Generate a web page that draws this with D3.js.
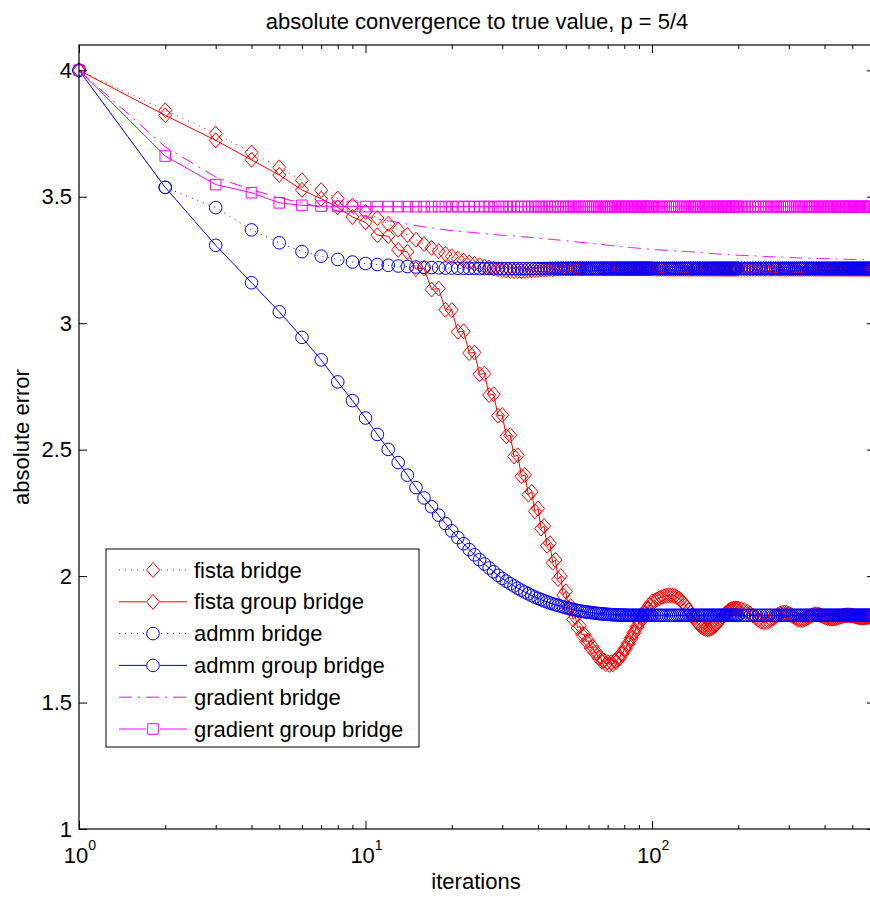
<!DOCTYPE html>
<html>
<head>
<meta charset="utf-8">
<script src="https://cdn.jsdelivr.net/npm/d3@7"></script>
<style>
body { margin: 0; background: #fff; }
svg { display: block; font-family: "Liberation Sans", Arial, Helvetica, sans-serif; }
</style>
</head>
<body>
<div id="chart"></div>
<script>
// iteration index: every step to 100, then thinner (markers still overlap into a band)
const iters = [...d3.range(1, 101), ...d3.range(102, 201, 2), ...d3.range(205, 581, 5)];

const fistaBridge = [
    4.000,3.842,3.750,3.675,3.616,3.565,3.526,3.493,3.465,3.440,
    3.416,3.393,3.370,3.349,3.330,3.313,3.298,3.285,3.274,3.264,
    3.255,3.247,3.240,3.234,3.229,3.224,3.220,3.216,3.213,3.210,
    3.208,3.207,3.206,3.206,3.206,3.207,3.208,3.209,3.210,3.211,
    3.212,3.213,3.213,3.214,3.214,3.215,3.215,3.216,3.216,3.216,
    3.216,3.216,3.216,3.216,3.216,3.216,3.216,3.216,3.216,3.216,
    3.216,3.216,3.216,3.216,3.216,3.216,3.216,3.216,3.216,3.216,
    3.216,3.216,3.216,3.216,3.216,3.216,3.216,3.216,3.216,3.216,
    3.216,3.216,3.216,3.216,3.216,3.216,3.216,3.216,3.216,3.216,
    3.216,3.216,3.216,3.216,3.216,3.216,3.216,3.216,3.216,3.216,
    // 102..200 by 2
    3.215,3.215,3.215,3.215,3.215,3.215,3.215,3.215,3.215,3.215,
    3.215,3.215,3.215,3.215,3.215,3.215,3.215,3.215,3.215,3.215,
    3.215,3.215,3.215,3.215,3.215,3.215,3.215,3.215,3.215,3.215,
    3.215,3.215,3.215,3.215,3.215,3.215,3.215,3.215,3.215,3.215,
    3.215,3.215,3.215,3.215,3.215,3.215,3.215,3.215,3.215,3.215,
    // 205..580 by 5
    3.215,3.215,3.215,3.215,3.215,3.215,3.215,3.215,3.215,3.215,
    3.215,3.215,3.215,3.215,3.215,3.215,3.215,3.215,3.215,3.215,
    3.215,3.215,3.215,3.215,3.215,3.215,3.215,3.215,3.215,3.215,
    3.215,3.215,3.215,3.215,3.215,3.215,3.215,3.215,3.215,3.215,
    3.215,3.215,3.215,3.215,3.215,3.215,3.215,3.215,3.215,3.215,
    3.215,3.215,3.215,3.215,3.215,3.215,3.215,3.215,3.215,3.215,
    3.215,3.215,3.215,3.215,3.215,3.215,3.215,3.215,3.215,3.215,
    3.215,3.215,3.215,3.215,3.215,3.215
];

const fistaGroup = [
    4.000,3.822,3.723,3.646,3.586,3.527,3.492,3.458,3.420,3.399,
    3.348,3.344,3.290,3.282,3.214,3.217,3.133,3.137,3.053,3.052,
    2.966,2.968,2.882,2.884,2.798,2.801,2.716,2.719,2.634,2.637,
    2.553,2.557,2.473,2.478,2.395,2.400,2.322,2.333,2.256,2.267,
    2.188,2.198,2.120,2.130,2.053,2.064,1.988,2.000,1.925,1.940,
    1.875,1.881,1.829,1.838,1.795,1.803,1.768,1.770,1.741,1.744,
    1.716,1.721,1.697,1.698,1.676,1.679,1.661,1.666,1.652,1.660,
    1.649,1.659,1.651,1.665,1.660,1.676,1.674,1.693,1.692,1.712,
    1.712,1.732,1.733,1.754,1.755,1.776,1.777,1.798,1.799,1.819,
    1.819,1.839,1.838,1.857,1.855,1.873,1.870,1.887,1.883,1.899,
    // 102..200 by 2
    1.902,1.908,1.913,1.917,1.920,1.922,1.924,1.924,1.923,1.921,
    1.917,1.912,1.905,1.897,1.888,1.877,1.866,1.855,1.844,1.834,
    1.824,1.815,1.808,1.801,1.796,1.793,1.791,1.790,1.790,1.792,
    1.795,1.799,1.804,1.810,1.817,1.824,1.831,1.838,1.845,1.851,
    1.856,1.861,1.865,1.868,1.870,1.871,1.872,1.872,1.872,1.871,
    // 205..580 by 5
    1.869,1.865,1.859,1.852,1.844,1.835,1.827,1.820,1.817,1.818,
    1.821,1.826,1.833,1.840,1.847,1.852,1.855,1.856,1.855,1.852,
    1.847,1.842,1.836,1.831,1.828,1.827,1.827,1.829,1.832,1.836,
    1.840,1.844,1.847,1.849,1.849,1.848,1.846,1.844,1.841,1.839,
    1.836,1.834,1.833,1.832,1.832,1.832,1.833,1.834,1.836,1.838,
    1.840,1.841,1.843,1.844,1.845,1.845,1.845,1.845,1.844,1.844,
    1.843,1.842,1.840,1.839,1.838,1.837,1.836,1.836,1.836,1.836,
    1.837,1.837,1.838,1.839,1.840,1.841
];

const admmBridge = [
    4.000,3.537,3.457,3.369,3.318,3.283,3.265,3.252,3.242,3.236,
    3.232,3.229,3.226,3.224,3.222,3.221,3.220,3.219,3.218,3.218,
    3.217,3.217,3.217,3.217,3.216,3.216,3.216,3.216,3.216,3.216,
    3.216,3.216,3.216,3.216,3.216,3.216,3.216,3.216,3.216,3.216,
    3.216,3.216,3.216,3.216,3.216,3.216,3.216,3.216,3.216,3.216,
    3.216,3.216,3.216,3.216,3.216,3.216,3.216,3.216,3.216,3.216,
    3.216,3.216,3.216,3.216,3.216,3.216,3.216,3.216,3.216,3.216,
    3.216,3.216,3.216,3.216,3.216,3.216,3.216,3.216,3.216,3.216,
    3.216,3.216,3.216,3.216,3.216,3.216,3.216,3.216,3.216,3.216,
    3.216,3.216,3.216,3.216,3.216,3.216,3.216,3.216,3.216,3.216,
    // 102..200 by 2
    3.216,3.216,3.216,3.216,3.216,3.216,3.216,3.216,3.216,3.216,
    3.216,3.216,3.216,3.216,3.216,3.216,3.216,3.216,3.216,3.216,
    3.216,3.216,3.216,3.216,3.216,3.216,3.216,3.216,3.216,3.216,
    3.216,3.216,3.216,3.216,3.216,3.216,3.216,3.216,3.216,3.216,
    3.216,3.216,3.216,3.216,3.216,3.216,3.216,3.216,3.216,3.216,
    // 205..580 by 5
    3.216,3.216,3.216,3.216,3.216,3.216,3.216,3.216,3.216,3.216,
    3.216,3.216,3.216,3.216,3.216,3.216,3.216,3.216,3.216,3.216,
    3.216,3.216,3.216,3.216,3.216,3.216,3.216,3.216,3.216,3.216,
    3.216,3.216,3.216,3.216,3.216,3.216,3.216,3.216,3.216,3.216,
    3.216,3.216,3.216,3.216,3.216,3.216,3.216,3.216,3.216,3.216,
    3.216,3.216,3.216,3.216,3.216,3.216,3.216,3.216,3.216,3.216,
    3.216,3.216,3.216,3.216,3.216,3.216,3.216,3.216,3.216,3.216,
    3.216,3.216,3.216,3.216,3.216,3.216
];

const admmGroup = [
    4.000,3.537,3.308,3.160,3.045,2.944,2.855,2.768,2.694,2.625,
    2.560,2.501,2.449,2.399,2.350,2.309,2.274,2.241,2.208,2.179,
    2.152,2.128,2.105,2.084,2.065,2.048,2.032,2.017,2.003,1.991,
    1.980,1.970,1.961,1.952,1.944,1.937,1.930,1.923,1.917,1.912,
    1.907,1.902,1.898,1.894,1.890,1.887,1.884,1.881,1.878,1.875,
    1.873,1.870,1.868,1.866,1.864,1.862,1.861,1.859,1.858,1.857,
    1.856,1.855,1.854,1.853,1.852,1.851,1.851,1.850,1.849,1.849,
    1.848,1.848,1.847,1.847,1.847,1.846,1.846,1.846,1.846,1.846,
    1.845,1.845,1.845,1.845,1.845,1.845,1.845,1.845,1.845,1.845,
    1.845,1.845,1.845,1.845,1.845,1.845,1.845,1.845,1.845,1.845,
    // 102..200 by 2
    1.845,1.845,1.845,1.845,1.845,1.845,1.845,1.845,1.845,1.845,
    1.845,1.845,1.845,1.845,1.845,1.845,1.845,1.845,1.845,1.845,
    1.845,1.845,1.845,1.845,1.845,1.845,1.845,1.845,1.845,1.845,
    1.845,1.845,1.845,1.845,1.845,1.845,1.845,1.845,1.845,1.845,
    1.845,1.845,1.845,1.845,1.845,1.845,1.845,1.845,1.845,1.845,
    // 205..580 by 5
    1.845,1.845,1.845,1.845,1.845,1.845,1.845,1.845,1.845,1.845,
    1.845,1.845,1.845,1.845,1.845,1.845,1.845,1.845,1.845,1.845,
    1.845,1.845,1.845,1.845,1.845,1.845,1.845,1.845,1.845,1.845,
    1.845,1.845,1.845,1.845,1.845,1.845,1.845,1.845,1.845,1.845,
    1.845,1.845,1.845,1.845,1.845,1.845,1.845,1.845,1.845,1.845,
    1.845,1.845,1.845,1.845,1.845,1.845,1.845,1.845,1.845,1.845,
    1.845,1.845,1.845,1.845,1.845,1.845,1.845,1.845,1.845,1.845,
    1.845,1.845,1.845,1.845,1.845,1.845
];

const gradientBridge = [
    4.000,3.697,3.578,3.527,3.497,3.475,3.458,3.445,3.433,3.422,
    3.413,3.405,3.398,3.392,3.386,3.381,3.377,3.373,3.369,3.366,
    3.364,3.362,3.360,3.358,3.356,3.354,3.352,3.351,3.349,3.348,
    3.347,3.346,3.345,3.344,3.342,3.341,3.340,3.339,3.338,3.337,
    3.335,3.334,3.333,3.332,3.331,3.330,3.329,3.328,3.327,3.326,
    3.325,3.324,3.323,3.322,3.321,3.320,3.319,3.318,3.317,3.316,
    3.315,3.314,3.314,3.313,3.312,3.311,3.311,3.310,3.309,3.308,
    3.308,3.307,3.306,3.306,3.305,3.304,3.304,3.303,3.302,3.302,
    3.301,3.301,3.300,3.299,3.299,3.298,3.298,3.297,3.297,3.296,
    3.296,3.295,3.295,3.294,3.294,3.293,3.293,3.292,3.292,3.291,
    // 102..200 by 2
    3.291,3.290,3.290,3.289,3.289,3.288,3.288,3.287,3.287,3.286,
    3.286,3.285,3.285,3.284,3.284,3.283,3.283,3.282,3.282,3.281,
    3.281,3.280,3.280,3.279,3.279,3.278,3.278,3.277,3.277,3.276,
    3.276,3.275,3.275,3.274,3.274,3.273,3.273,3.273,3.272,3.272,
    3.271,3.271,3.271,3.270,3.270,3.270,3.269,3.269,3.269,3.269,
    // 205..580 by 5
    3.268,3.268,3.267,3.267,3.266,3.266,3.265,3.265,3.264,3.264,
    3.263,3.263,3.262,3.262,3.262,3.262,3.261,3.261,3.260,3.260,
    3.259,3.259,3.259,3.259,3.258,3.258,3.258,3.258,3.257,3.257,
    3.257,3.257,3.256,3.256,3.256,3.256,3.256,3.256,3.255,3.255,
    3.255,3.255,3.255,3.255,3.254,3.254,3.254,3.254,3.254,3.254,
    3.253,3.253,3.253,3.253,3.253,3.253,3.252,3.252,3.252,3.252,
    3.252,3.252,3.252,3.252,3.251,3.251,3.251,3.251,3.251,3.251,
    3.251,3.251,3.250,3.250,3.250,3.250
];

const gradientGroup = [
    4.000,3.661,3.548,3.516,3.476,3.466,3.463,3.462,3.462,3.461,
    3.461,3.461,3.461,3.461,3.461,3.461,3.461,3.461,3.461,3.461,
    3.461,3.461,3.461,3.461,3.461,3.461,3.461,3.461,3.461,3.461,
    3.461,3.461,3.461,3.461,3.461,3.461,3.461,3.461,3.461,3.461,
    3.461,3.461,3.461,3.461,3.461,3.461,3.461,3.461,3.461,3.461,
    3.461,3.461,3.461,3.461,3.461,3.461,3.461,3.461,3.461,3.461,
    3.461,3.461,3.461,3.461,3.461,3.461,3.461,3.461,3.461,3.461,
    3.461,3.461,3.461,3.461,3.461,3.461,3.461,3.461,3.461,3.461,
    3.461,3.461,3.461,3.461,3.461,3.461,3.461,3.461,3.461,3.461,
    3.461,3.461,3.461,3.461,3.461,3.461,3.461,3.461,3.461,3.461,
    // 102..200 by 2
    3.461,3.461,3.461,3.461,3.461,3.461,3.461,3.461,3.461,3.461,
    3.461,3.461,3.461,3.461,3.461,3.461,3.461,3.461,3.461,3.461,
    3.461,3.461,3.461,3.461,3.461,3.461,3.461,3.461,3.461,3.461,
    3.461,3.461,3.461,3.461,3.461,3.461,3.461,3.461,3.461,3.461,
    3.461,3.461,3.461,3.461,3.461,3.461,3.461,3.461,3.461,3.461,
    // 205..580 by 5
    3.461,3.461,3.461,3.461,3.461,3.461,3.461,3.461,3.461,3.461,
    3.461,3.461,3.461,3.461,3.461,3.461,3.461,3.461,3.461,3.461,
    3.461,3.461,3.461,3.461,3.461,3.461,3.461,3.461,3.461,3.461,
    3.461,3.461,3.461,3.461,3.461,3.461,3.461,3.461,3.461,3.461,
    3.461,3.461,3.461,3.461,3.461,3.461,3.461,3.461,3.461,3.461,
    3.461,3.461,3.461,3.461,3.461,3.461,3.461,3.461,3.461,3.461,
    3.461,3.461,3.461,3.461,3.461,3.461,3.461,3.461,3.461,3.461,
    3.461,3.461,3.461,3.461,3.461,3.461
];

const seriesNames = ["fista bridge", "fista group bridge", "admm bridge",
                     "admm group bridge", "gradient bridge", "gradient group bridge"];
const yTicks = [1, 1.5, 2, 2.5, 3, 3.5, 4];
const xMajor = [1, 10, 100];
const xMinor = [2, 3, 4, 5, 6, 7, 8, 9, 20, 30, 40, 50, 60, 70, 80, 90, 200, 300, 400, 500];
const xTickExp = ["0", "1", "2"];

const W = 870, H = 897;
const mLeft = 79, mRight = 875, mTop = 45, mBottom = 829;
const FS = 22;

const svg = d3.select("#chart")
    .append("svg")
    .attr("width", W)
    .attr("height", H);

const x = d3.scaleLog().domain([1, 600]).range([mLeft, mRight]);
const y = d3.scaleLinear().domain([1, 4.1]).range([mBottom, mTop]);

const series = [
    {name: seriesNames[0], values: fistaBridge, color: "#ff0000", dash: "1,5", marker: "diamond"},
    {name: seriesNames[1], values: fistaGroup, color: "#ff0000", dash: null, marker: "diamond"},
    {name: seriesNames[2], values: admmBridge, color: "#0000ff", dash: "1,5", marker: "circle"},
    {name: seriesNames[3], values: admmGroup, color: "#0000ff", dash: null, marker: "circle"},
    {name: seriesNames[4], values: gradientBridge, color: "#ff00ff", dash: "13,6,2,6", marker: null},
    {name: seriesNames[5], values: gradientGroup, color: "#ff00ff", dash: null, marker: "square"},
];

series.forEach(s => {
    if (s.values.length !== iters.length) throw new Error(s.name + " has " + s.values.length + " values, expected " + iters.length);
});

function addMarker(g, kind, color) {
    if (kind === "circle") {
        g.append("circle").attr("r", 6.3);
    } else if (kind === "diamond") {
        g.append("path").attr("d", "M0,-7.5L6.5,0L0,7.5L-6.5,0Z");
    } else if (kind === "square") {
        g.append("path").attr("d", "M-5.3,-5.3H5.3V5.3H-5.3Z");
    }
    g.selectAll("circle,path")
        .attr("fill", "none")
        .attr("stroke", color)
        .attr("stroke-width", 1);
}

// plot area clip for lines only (markers are not clipped, like matlab)
svg.append("defs").append("clipPath")
    .attr("id", "plotclip")
    .append("rect")
    .attr("x", mLeft).attr("y", mTop)
    .attr("width", mRight - mLeft).attr("height", mBottom - mTop);

const line = d3.line()
    .x((d, i) => x(iters[i]))
    .y(d => y(d));

const plot = svg.append("g");

series.forEach(s => {
    plot.append("path")
        .datum(s.values)
        .attr("clip-path", "url(#plotclip)")
        .attr("fill", "none")
        .attr("stroke", s.color)
        .attr("stroke-width", 1)
        .attr("stroke-dasharray", s.dash)
        .attr("d", line);

    if (s.marker) {
        plot.append("g").selectAll("g")
            .data(s.values)
            .join("g")
            .attr("transform", (d, i) => `translate(${x(iters[i])},${y(d)})`)
            .each(function() { addMarker(d3.select(this), s.marker, s.color); });
    }
});

// axes box
svg.append("rect")
    .attr("x", mLeft).attr("y", mTop)
    .attr("width", mRight - mLeft).attr("height", mBottom - mTop)
    .attr("fill", "none")
    .attr("stroke", "black")
    .attr("stroke-width", 1.2);

function styleAxis(g) {
    g.select(".domain").remove();
    g.selectAll("line").attr("stroke", "black").attr("stroke-width", 1);
    g.selectAll("text")
        .attr("fill", "black")
        .attr("font-size", FS)
        .attr("font-family", "'Liberation Sans', Arial, Helvetica, sans-serif");
}

svg.append("g")
    .attr("transform", `translate(${mLeft},0)`)
    .call(d3.axisLeft(y).tickValues(yTicks).tickSize(-8).tickPadding(7).tickFormat(d => String(d)))
    .call(styleAxis);

svg.append("g")
    .attr("transform", `translate(${mRight},0)`)
    .call(d3.axisRight(y).tickValues(yTicks).tickSize(-8).tickFormat(""))
    .call(styleAxis);

[[d3.axisBottom, mBottom], [d3.axisTop, mTop]].forEach(([ax, pos]) => {
    svg.append("g")
        .attr("transform", `translate(0,${pos})`)
        .call(ax(x).tickValues(xMajor).tickSize(-8).tickFormat(""))
        .call(styleAxis);
    svg.append("g")
        .attr("transform", `translate(0,${pos})`)
        .call(ax(x).tickValues(xMinor).tickSize(-4).tickFormat(""))
        .call(styleAxis);
});

// 10^n labels
xMajor.forEach((v, i) => {
    const t = svg.append("text")
        .attr("x", x(v) + 1)
        .attr("y", 863)
        .attr("text-anchor", "middle")
        .attr("font-size", FS)
        .attr("fill", "black");
    t.append("tspan").text("10");
    t.append("tspan")
        .attr("dy", -13)
        .attr("font-size", 14)
        .text(xTickExp[i]);
});

svg.append("text")
    .attr("x", 477)
    .attr("y", 28.5)
    .attr("text-anchor", "middle")
    .attr("font-size", FS)
    .attr("fill", "black")
    .text("absolute convergence to true value, p = 5/4");

svg.append("text")
    .attr("x", 476)
    .attr("y", 889)
    .attr("text-anchor", "middle")
    .attr("font-size", FS)
    .attr("fill", "black")
    .text("iterations");

svg.append("text")
    .attr("transform", "translate(29,437) rotate(-90)")
    .attr("text-anchor", "middle")
    .attr("font-size", FS)
    .attr("fill", "black")
    .text("absolute error");

// legend
const legend = svg.append("g");
legend.append("rect")
    .attr("x", 106).attr("y", 549)
    .attr("width", 313).attr("height", 198)
    .attr("fill", "white")
    .attr("stroke", "black")
    .attr("stroke-width", 1);

series.forEach((s, i) => {
    const ly = 570 + i * 31.8;
    legend.append("line")
        .attr("x1", 119).attr("x2", 187)
        .attr("y1", ly).attr("y2", ly)
        .attr("stroke", s.color)
        .attr("stroke-width", 1)
        .attr("stroke-dasharray", s.dash);
    if (s.marker) {
        const mg = legend.append("g").attr("transform", `translate(153,${ly})`);
        mg.append("rect").attr("x", -7).attr("y", -8).attr("width", 14).attr("height", 16).attr("fill", "white");
        addMarker(mg, s.marker, s.color);
    }
    legend.append("text")
        .attr("x", 194)
        .attr("y", ly + 7.5)
        .attr("font-size", FS)
        .attr("fill", "black")
        .text(s.name);
});
</script>
</body>
</html>
